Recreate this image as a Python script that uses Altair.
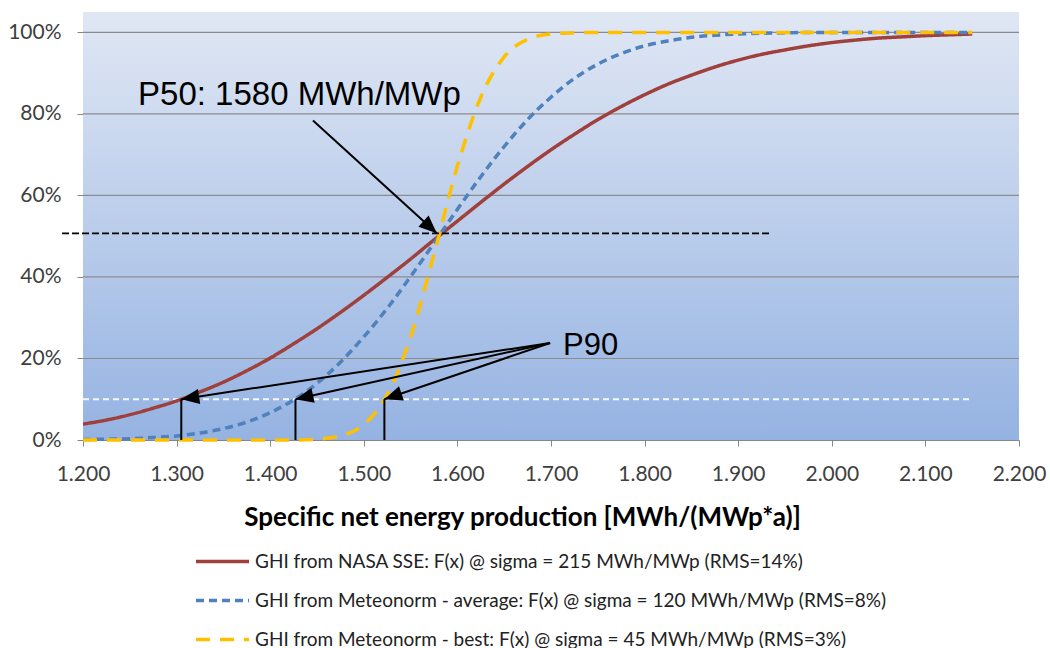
import math
import altair as alt
import pandas as pd

# ---------------- data ----------------
x_vals = [1.200, 1.225, 1.250, 1.275, 1.300, 1.325, 1.350, 1.375, 1.400, 1.425,
          1.450, 1.475, 1.500, 1.525, 1.550, 1.575, 1.600, 1.625, 1.650, 1.675,
          1.700, 1.725, 1.750, 1.775, 1.800, 1.825, 1.850, 1.875, 1.900, 1.925,
          1.950, 1.975, 2.000, 2.025, 2.050, 2.075, 2.100, 2.125, 2.150]

nasa = [0.039, 0.049, 0.062, 0.078, 0.096, 0.118, 0.142, 0.170, 0.201, 0.236,
        0.273, 0.313, 0.355, 0.399, 0.444, 0.491, 0.537, 0.583, 0.628, 0.671,
        0.712, 0.750, 0.786, 0.818, 0.847, 0.873, 0.895, 0.915, 0.932, 0.946,
        0.957, 0.967, 0.975, 0.981, 0.986, 0.989, 0.992, 0.994, 0.996]

meteo_avg = [0.001, 0.002, 0.003, 0.006, 0.010, 0.017, 0.028, 0.044, 0.067, 0.098,
             0.139, 0.191, 0.253, 0.323, 0.401, 0.483, 0.566, 0.646, 0.720, 0.786,
             0.841, 0.887, 0.922, 0.948, 0.967, 0.979, 0.988, 0.993, 0.996, 0.998,
             0.999, 1.000, 1.000, 1.000, 1.000, 1.000, 1.000, 1.000, 1.000]

meteo_best = [0.000, 0.000, 0.000, 0.000, 0.000, 0.000, 0.000, 0.000, 0.000, 0.000,
              0.002, 0.010, 0.038, 0.111, 0.253, 0.456, 0.672, 0.841, 0.940, 0.983,
              0.996, 0.999, 1.000, 1.000, 1.000, 1.000, 1.000, 1.000, 1.000, 1.000,
              1.000, 1.000, 1.000, 1.000, 1.000, 1.000, 1.000, 1.000, 1.000]

series_names = [
    "GHI from NASA SSE: F(x) @ sigma = 215 MWh/MWp (RMS=14%)",
    "GHI from Meteonorm - average: F(x) @ sigma = 120 MWh/MWp (RMS=8%)",
    "GHI from Meteonorm - best: F(x) @ sigma = 45 MWh/MWp (RMS=3%)",
]
series_colors = ["#a0403c", "#4f81bd", "#ffc000"]
series_dashes = [[1, 0], [8, 5], [14, 10]]

x_ticks = [1.2, 1.3, 1.4, 1.5, 1.6, 1.7, 1.8, 1.9, 2.0, 2.1, 2.2]
y_ticks = [0.0, 0.2, 0.4, 0.6, 0.8, 1.0]
grid_levels = [0.2, 0.4, 0.6, 0.8, 1.0]

# annotations
p50_label = "P50: 1580 MWh/MWp"
p50_label_pos = (1.2588, 0.822)
p50_arrow_start = (1.4457, 0.784)
p50_arrow_tip = (1.578, 0.507)
p50_line = (1.1776, 1.934, 0.507)

p90_label = "P90"
p90_label_pos = (1.7128, 0.2085)
p90_arrow_start = (1.699, 0.238)
p90_x = [1.305, 1.427, 1.522]
p90_level = 0.10
p90_line = (1.2, 2.15, 0.10)

# ---------------- layout ----------------
W, H = 936, 428
XMIN, XMAX, YMAX = 1.2, 2.2, 1.05
PX_X = W / (XMAX - XMIN)
PX_Y = H / YMAX

xs = alt.Scale(domain=[XMIN, XMAX], nice=False, zero=False)
ys = alt.Scale(domain=[0, YMAX], nice=False, zero=False)

AXIS_GRAY = "#868686"
TICK_FONT = "Lato"

x_axis = alt.Axis(values=x_ticks, format=".3f", grid=False, tickSize=6,
                  domainColor=AXIS_GRAY, tickColor=AXIS_GRAY, labelFont=TICK_FONT,
                  labelFontSize=21, labelColor="#404040", labelPadding=17,
                  labelFlush=False, labelOverlap=False, labelBound=False,
                  title="Specific net energy production [MWh/(MWp*a)]",
                  titleFont="Lato", titleFontSize=26, titleFontWeight="bold",
                  titleColor="#000000", titleX=439, titleY=77, titleAlign="center",
                  titleBaseline="middle", titleAnchor="start")
y_axis = alt.Axis(values=y_ticks, format=".0%", grid=False, tickSize=6,
                  domainColor=AXIS_GRAY, tickColor=AXIS_GRAY, labelFont=TICK_FONT,
                  labelFontSize=21, labelColor="#404040", labelPadding=16,
                  labelFlush=False, labelOverlap=False, title=None)


def X(field):
    return alt.X(field, scale=xs, axis=x_axis)


def Y(field):
    return alt.Y(field, scale=ys, axis=y_axis)


# background gradient
bg_df = pd.DataFrame({"x": [XMIN], "x2": [XMAX], "y": [0.0], "y2": [YMAX]})
bg = alt.Chart(bg_df).mark_rect(
    color=alt.LinearGradient(
        gradient="linear",
        stops=[alt.GradientStop(color="#e0e7f4", offset=0),
               alt.GradientStop(color="#95b3e2", offset=1)],
        x1=0, x2=0, y1=0, y2=1),
).encode(x=X("x:Q"), x2="x2:Q", y=Y("y:Q"), y2="y2:Q")

grid = alt.Chart(pd.DataFrame({"y": grid_levels})).mark_rule(
    color="#8c8c8c", strokeWidth=1.2
).encode(y=Y("y:Q"))

white_line = alt.Chart(pd.DataFrame({"x": [p90_line[0]], "x2": [p90_line[1]], "y": [p90_line[2]]})).mark_rule(
    color="#ffffff", strokeWidth=2, strokeDash=[6, 4], opacity=0.9
).encode(x=X("x:Q"), x2="x2:Q", y=Y("y:Q"))

# curves
rows = []
for name, vals in zip(series_names, [nasa, meteo_avg, meteo_best]):
    for xv, yv in zip(x_vals, vals):
        rows.append({"x": xv, "y": yv, "series": name})
curve_df = pd.DataFrame(rows)

curves = alt.Chart(curve_df).mark_line(strokeWidth=3.5, interpolate="monotone").encode(
    x=X("x:Q"),
    y=Y("y:Q"),
    color=alt.Color("series:N", title=None,
                    scale=alt.Scale(domain=series_names, range=series_colors),
                    sort=series_names),
    strokeDash=alt.StrokeDash("series:N", title=None,
                              scale=alt.Scale(domain=series_names, range=series_dashes),
                              sort=series_names),
    order=alt.Order("x:Q"),
)

black_line = alt.Chart(pd.DataFrame({"x": [p50_line[0]], "x2": [p50_line[1]], "y": [p50_line[2]]})).mark_rule(
    color="#000000", strokeWidth=1.6, strokeDash=[7, 3]
).encode(x=X("x:Q"), x2="x2:Q", y=Y("y:Q"))

vert = alt.Chart(pd.DataFrame({"x": p90_x, "y": [0.0] * 3, "y2": [p90_level] * 3})).mark_rule(
    color="#000000", strokeWidth=2
).encode(x=X("x:Q"), y=Y("y:Q"), y2="y2:Q")

# arrows
starts = [p50_arrow_start] + [p90_arrow_start] * 3
tips = [p50_arrow_tip] + [(px, p90_level) for px in p90_x]
arr_rows = []
for (sx, sy), (tx, ty) in zip(starts, tips):
    dx = (tx - sx) * PX_X
    dy = -(ty - sy) * PX_Y
    ang = math.degrees(math.atan2(dy, dx)) % 360
    arr_rows.append({"x": sx, "y": sy, "x2": tx, "y2": ty, "angle": ang})
arr_df = pd.DataFrame(arr_rows)

arrow_lines = alt.Chart(arr_df).mark_rule(color="#000000", strokeWidth=2).encode(
    x=X("x:Q"), y=Y("y:Q"), x2="x2:Q", y2="y2:Q")

arrow_heads = alt.Chart(arr_df).mark_point(
    shape="M0,0L-1,-0.42L-1,0.42Z", filled=True, size=1296, color="#000000", opacity=1
).encode(x=X("x2:Q"), y=Y("y2:Q"), angle=alt.Angle("angle:Q", scale=None))

labels_df = pd.DataFrame({
    "x": [p50_label_pos[0], p90_label_pos[0]],
    "y": [p50_label_pos[1], p90_label_pos[1]],
    "t": [p50_label, p90_label],
    "s": [33, 31],
})
labels = alt.Chart(labels_df).mark_text(
    align="left", baseline="alphabetic", font="Liberation Sans", color="#000000"
).encode(x=X("x:Q"), y=Y("y:Q"), text="t:N", size=alt.Size("s:Q", scale=None, legend=None))

chart = alt.layer(
    bg, grid, white_line, curves, black_line, vert, arrow_lines, arrow_heads, labels
).properties(
    width=W, height=H,
    padding={"left": 83, "top": 12, "right": 31, "bottom": 208},
    autosize=alt.AutoSizeParams(type="none"),
    background="#ffffff",
).configure_view(stroke=None).configure_legend(
    orient="none", legendX=111, legendY=521, direction="vertical",
    symbolType="stroke", symbolSize=2809, symbolStrokeWidth=3.5,
    labelFont="Lato", labelFontSize=19, labelColor="#222222", labelOffset=4,
    rowPadding=-18, padding=0, labelLimit=0,
)

chart.save("out.html", embed_options={"renderer": "svg", "actions": False})
